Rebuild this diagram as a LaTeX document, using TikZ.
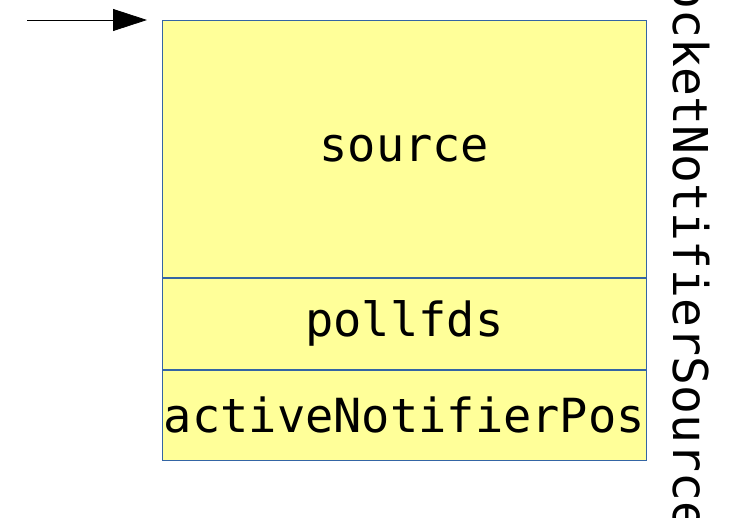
\documentclass[tikz,border=0pt]{standalone}
\usepackage{fontspec}
\setmonofont{DejaVu Sans Mono}
\usetikzlibrary{positioning}
\usetikzlibrary{arrows.meta}

\definecolor{fieldfill}{RGB}{255,255,153}
\definecolor{fieldline}{RGB}{52,101,164}

\begin{document}
\begin{tikzpicture}[field/.style={draw=fieldline, fill=fieldfill, line width=0.8pt, inner sep=0pt, minimum width=484pt, font=\fontsize{47pt}{56pt}\ttfamily}]
            \useasboundingbox (0,0) rectangle (739pt,-518pt);

            \node[field, minimum height=257pt, anchor=north west] (source) at (162pt,-20pt) {source};
            \node[field, minimum height=91pt, below = 0pt of source] (pollfds) {pollfds};
            \node[field, minimum height=90pt, below = 0pt of pollfds] (pos) {activeNotifierPos};

            \node[rotate=-90, anchor=base, font=\fontsize{48pt}{56pt}\ttfamily] (name) at (673pt,-241pt) {SocketNotifierSource};

            \coordinate[left = 15pt of source.north west] (b);
            \coordinate[left = 120pt of b] (a);
            \draw[-{Triangle[width=22pt,length=34pt]}, line width=0.8pt] (a) -- (b);
        \end{tikzpicture}
\end{document}
